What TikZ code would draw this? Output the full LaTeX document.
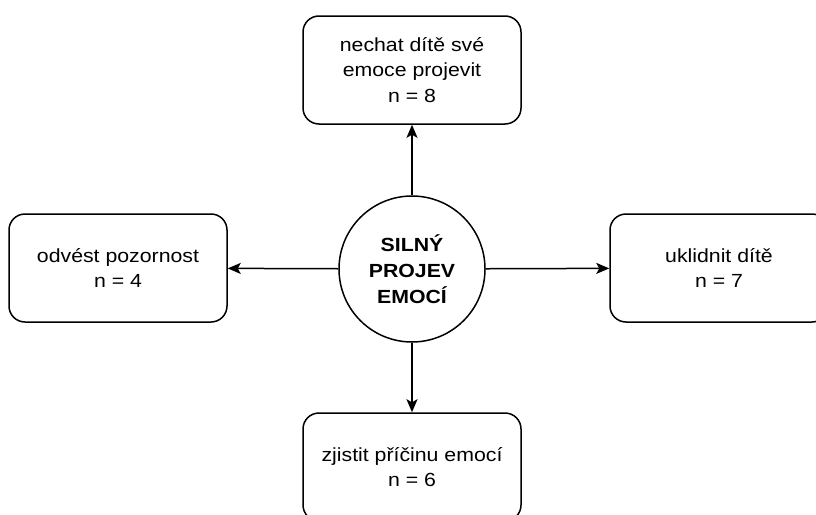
\documentclass[tikz,border=0pt]{standalone}
\usepackage{fontspec}
\setmainfont{Liberation Sans}[FakeStretch=1.12]
\usetikzlibrary{arrows.meta}
\tikzset{
  /tikz/.cd,
  answer/.style={draw,line width=1.5pt,rounded corners=16pt,minimum width=218pt,minimum height=108pt,align=center,font=\fontsize{19}{25.5}\selectfont},
  link/.style={line width=1.5pt,-{Stealth[length=13pt,width=11pt,inset=3pt]}}
}

\begin{document}
\begin{tikzpicture}[x=1pt,y=-1pt,
                    topic/.style={draw,circle,line width=1.5pt,minimum size=146pt,inner sep=0pt,align=center,font=\bfseries\fontsize{19}{26}\selectfont}]
      \useasboundingbox (0,0) rectangle (816,514);

      \node[topic] (emotion) at (412,269) {SILNÝ\\PROJEV\\EMOCÍ};

      \node[answer] (express) at (412,70) {nechat dítě své\\emoce projevit\\n = 8};
      \node[answer] (distract) at (118,268) {odvést pozornost\\n = 4};
      \node[answer] (calm) at (719,268) {uklidnit dítě\\n = 7};
      \node[answer] (cause) at (412,467) {zjistit příčinu emocí\\n = 6};

      \draw[link] (emotion) -- (express);
      \draw[link] (emotion) -- (distract);
      \draw[link] (emotion) -- (calm);
      \draw[link] (emotion) -- (cause);
    \end{tikzpicture}
\end{document}
